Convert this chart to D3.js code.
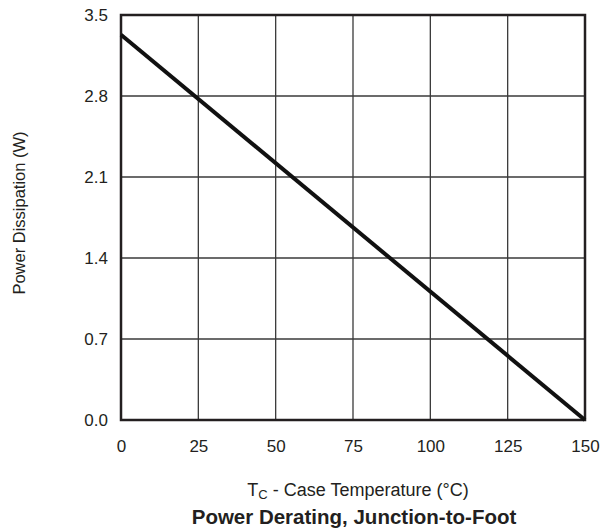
<!DOCTYPE html>
<html>
<head>
<meta charset="utf-8">
<script src="https://cdn.jsdelivr.net/npm/d3@7"></script>
<style>
  body { margin: 0; background: #fff; }
  text { font-family: "Liberation Sans", Arial, sans-serif; fill: #231f20; }
</style>
</head>
<body>
<div id="grafica"></div>
<script>
// case temperature (°C) and power dissipation (W)
var tempC = [0, 150];
var powerW = [3.33, 0];
var xTicks = [0, 25, 50, 75, 100, 125, 150];
var yTicks = [0.0, 0.7, 1.4, 2.1, 2.8, 3.5];

var margin = {top: 15, right: 16, bottom: 111, left: 121},
    width = 601 - margin.left - margin.right,
    height = 531 - margin.top - margin.bottom;

var svg = d3.select("#grafica")
  .append("svg")
  .attr("width", 601)
  .attr("height", 531)
  .append("g")
  .attr("transform", "translate(" + margin.left + "," + margin.top + ")");

var x = d3.scaleLinear().domain([0, 150]).range([0, width]);
var y = d3.scaleLinear().domain([0, 3.5]).range([height, 0]);

// grid
svg.append("g")
  .selectAll("line")
  .data(xTicks.slice(1, -1))
  .enter()
  .append("line")
    .attr("x1", function(d) { return x(d); })
    .attr("x2", function(d) { return x(d); })
    .attr("y1", 0)
    .attr("y2", height)
    .attr("stroke", "#3a3a3a")
    .attr("stroke-width", 1.3);

svg.append("g")
  .selectAll("line")
  .data(yTicks.slice(1, -1))
  .enter()
  .append("line")
    .attr("x1", 0)
    .attr("x2", width)
    .attr("y1", function(d) { return y(d); })
    .attr("y2", function(d) { return y(d); })
    .attr("stroke", "#3a3a3a")
    .attr("stroke-width", 1.3);

// frame
svg.append("rect")
  .attr("x", 0)
  .attr("y", 0)
  .attr("width", width)
  .attr("height", height)
  .attr("fill", "none")
  .attr("stroke", "#231f20")
  .attr("stroke-width", 2.5);

// axes (labels only)
var xAxis = svg.append("g")
  .attr("transform", "translate(0," + height + ")")
  .call(d3.axisBottom(x).tickValues(xTicks).tickSize(0).tickPadding(20));
xAxis.select(".domain").remove();
xAxis.selectAll("text")
  .style("font-size", "17px")
  .attr("fill", "#231f20");

var yAxis = svg.append("g")
  .call(d3.axisLeft(y).tickValues(yTicks).tickFormat(d3.format(".1f")).tickSize(0).tickPadding(13));
yAxis.select(".domain").remove();
yAxis.selectAll("text")
  .style("font-size", "17px")
  .attr("fill", "#231f20");

// data line
var line = d3.line()
  .x(function(d, i) { return x(tempC[i]); })
  .y(function(d) { return y(d); });

svg.append("path")
  .datum(powerW)
  .attr("d", line)
  .attr("fill", "none")
  .attr("stroke", "#111")
  .attr("stroke-width", 4);

// titles
var root = d3.select("svg");

root.append("text")
  .attr("transform", "translate(25,213)rotate(-90)")
  .attr("text-anchor", "middle")
  .style("font-size", "16.5px")
  .text("Power Dissipation (W)");

var xt = root.append("text")
  .attr("x", 358)
  .attr("y", 496)
  .attr("text-anchor", "middle")
  .style("font-size", "18px");
xt.append("tspan").text("T");
xt.append("tspan").attr("dy", 3).style("font-size", "13px").text("C");
xt.append("tspan").attr("dy", -3).text(" - Case Temperature (°C)");

root.append("text")
  .attr("x", 354)
  .attr("y", 524)
  .attr("text-anchor", "middle")
  .style("font-size", "20.5px")
  .style("font-weight", "bold")
  .text("Power Derating, Junction-to-Foot");
</script>
</body>
</html>
